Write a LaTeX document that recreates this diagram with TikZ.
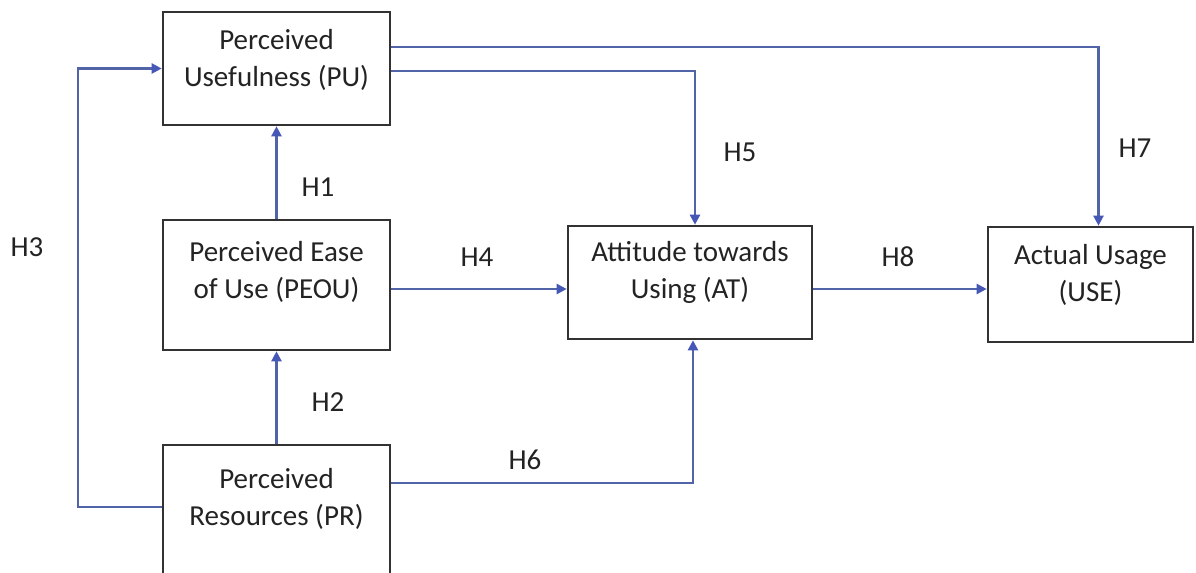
\documentclass[tikz,border=0pt]{standalone}
\usepackage{fontspec}
\setmainfont{Carlito}
\usetikzlibrary{arrows.meta}
\definecolor{boxline}{RGB}{50,50,50}
\definecolor{linkline}{RGB}{82,100,168}
\definecolor{linktip}{RGB}{70,88,182}
\definecolor{txt}{RGB}{35,35,35}
\newcommand{\lowstrut}[1]{\rule[-#1]{0pt}{#1}}

\begin{document}
\begin{tikzpicture}[x=0.5pt, y=-0.5pt,
  every node/.style={font=\fontsize{14.5}{18.5}\selectfont, text=txt},
  construct/.style={draw=boxline, line width=1.3pt, align=center, inner sep=0pt},
  link/.style={draw=linkline, line width=1.15pt, -{Triangle[length=5pt,width=5pt,color=linktip]}},
  hyp/.style={inner sep=0pt}]
\useasboundingbox (0,0) rectangle (1196,573);

\node [construct, minimum width=113.5pt, minimum height=56.5pt] (pu) at (276.5,68.5) {Perceived\\Usefulness (PU)\lowstrut{10.5pt}};
\node [construct, minimum width=113.5pt, minimum height=65pt] (peou) at (276.5,285) {Perceived Ease\\of Use (PEOU)\lowstrut{15pt}};
\node [construct, minimum width=113.5pt, minimum height=77.5pt] (pr) at (276.5,522.5) {Perceived\\Resources (PR)\lowstrut{26pt}};
\node [construct, minimum width=122pt, minimum height=56.5pt] (at) at (690,282.5) {Attitude towards\\Using (AT)\lowstrut{12.5pt}};
\node [construct, minimum width=102.5pt, minimum height=57.5pt] (use) at (1090.5,284.5) {Actual Usage\\(USE)\lowstrut{12pt}};

\draw [link] (peou) -- (pu);
\draw [link] (pr) -- (peou);
\draw [link] ([yshift=7.75pt]pr.west) -- ++(-84,0) |- (pu.west);
\draw [link] ([yshift=-2pt]peou.east) -- ([yshift=-2pt]peou.east -| at.west);
\draw [link] ([yshift=-1.25pt]pu.east) -| ([xshift=2.5pt]at.north);
\draw [link] ([yshift=19.75pt]pr.east) -| ([xshift=1.5pt]at.south);
\draw [link] ([yshift=10.75pt]pu.east) -| ([xshift=4pt]use.north);
\draw [link] ([yshift=-3.25pt]at.east) -- ([yshift=-3.25pt]at.east -| use.west);

\node [hyp] (h1) at (318,187) {H1};
\node [hyp] (h2) at (328,402) {H2};
\node [hyp] (h3) at (27,247) {H3};
\node [hyp] (h4) at (477,257) {H4};
\node [hyp] (h5) at (740,152) {H5};
\node [hyp] (h6) at (525,460) {H6};
\node [hyp] (h7) at (1135,148) {H7};
\node [hyp] (h8) at (898,257) {H8};
\end{tikzpicture}
\end{document}
